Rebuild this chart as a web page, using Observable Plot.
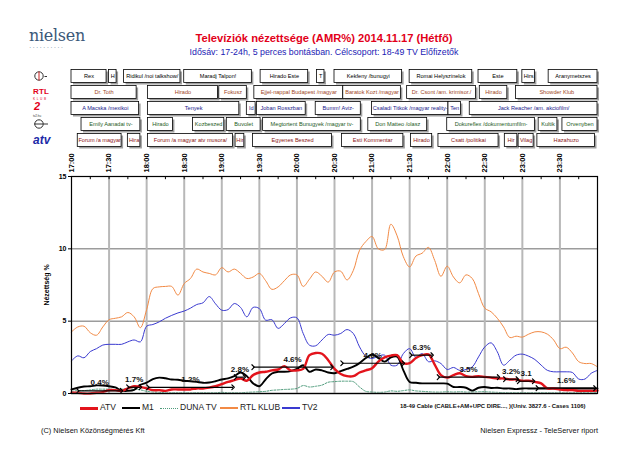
<!DOCTYPE html>
<html><head><meta charset="utf-8">
<script src="https://cdn.jsdelivr.net/npm/d3@7"></script>
<script src="https://cdn.jsdelivr.net/npm/@observablehq/plot@0.6"></script>
<style>
body{margin:0;background:#fff;font-family:"Liberation Sans",Arial,sans-serif;}
#page{position:relative;width:640px;height:450px;overflow:hidden;background:#fff;}
.abs{position:absolute;white-space:nowrap;line-height:1;}
.sw{position:absolute;height:0;}
</style></head><body><div id="page"></div>
<script>
// ---------- data ----------
const timeLabels = ["17:00","17:30","18:00","18:30","19:00","19:30","20:00","20:30","21:00","21:30","22:00","22:30","23:00","23:30"];
const yTicks = [0,5,10,15];
const channelNames = ["ATV","M1","DUNA TV","RTL KLUB","TV2"];
const channelColors = ["#e3141c","#000000","#4f9c7c","#f28a45","#3a3ad0"];

// AMR% every 5 minutes 17:00 ... 24:00
const atvValues = [0.05,0.05,0,0,0.05,0.1,0.23,0.23,0.18,0.35,0.5,0.46,
 0.35,0.23,0.23,0.18,0.28,0.28,0.28,0.28,0.35,0.35,0.41,0.5,
 0.65,0.8,0.92,1.04,0.88,1.27,1.45,1.5,1.6,1.66,1.89,1.6,
 1.6,1.7,2.65,2.8,2.75,2.3,1.7,1.35,1.2,1.2,1.45,1.6,
 1.75,2.2,2.5,2.62,2.65,2.1,2.1,2.45,2.65,2.7,2.0,1.27,
 1.1,1.27,1.4,1.2,1.15,1.2,1.15,1.1,1.04,1.04,0.97,0.97,
 0.88,0.88,0.8,0.7,0.35,0.35,0.28,0.23,0.23,0.18,0.18,0.18,0.2];
const m1Values = [0.28,0.4,0.48,0.5,0.56,0.55,0.5,0.42,0.2,0.18,0.25,0.6,
 0.75,1.0,1.1,1.05,0.97,0.95,0.88,0.85,0.8,0.74,0.76,0.85,
 0.97,1.04,1.2,1.45,1.2,0.7,0.5,0.97,1.38,1.5,1.5,1.55,
 1.7,1.95,1.5,1.66,1.6,1.45,1.4,1.55,1.7,1.85,2.1,2.45,
 2.7,2.45,2.2,2.5,2.55,1.6,0.8,0.74,0.7,0.7,0.7,0.7,
 0.68,0.45,0.45,0.4,0.2,0.4,0.45,0.38,0.4,0.35,0.35,0.3,
 0.35,0.35,0.35,0.35,0.35,0.35,0.35,0.35,0.35,0.35,0.35,0.35,0.35];
const dunaValues = [0.15,0.2,0.2,0.25,0.3,0.3,0.3,0.28,0.3,0.32,0.3,0.25,
 0.15,0.1,0.08,0.05,0.05,0.05,0.05,0.05,0.05,0.05,0.05,0.05,
 0.08,0.05,0.05,0.05,0.08,0.1,0.12,0.15,0.22,0.25,0.28,0.3,
 0.35,0.55,0.45,0.5,0.58,0.78,0.82,0.85,0.85,0.82,0.45,0.15,
 0.1,0.08,0.1,0.18,0.15,0.2,0.25,0.18,0.15,0.12,0.1,0.1,
 0.12,0.1,0.12,0.1,0.1,0.12,0.12,0.1,0.08,0.06,0.05,0.05,
 0.05,0.05,0.05,0.05,0.05,0.05,0.05,0.05,0.05,0.05,0.05,0.05,0.05];
const rtlValues = [4.26,4.6,4.65,4.2,4.03,4.6,5.1,5.2,5.3,5.6,5.3,4.55,
 5.8,7.25,7.37,7.4,7.4,6.8,7.6,7.95,8.6,8.4,8.3,8.2,
 8.7,8.4,8.6,8.3,7.95,8.05,8.3,7.8,7.2,7.37,7.8,8.2,
 8.2,7.4,7.9,8.4,8.1,7.7,8.4,8.45,7.85,8.5,9.9,10.5,
 10.85,10.0,9.95,11.7,10.9,9.45,8.75,9.5,9.7,10.1,9.2,8.1,
 8.8,8.05,7.65,8.2,7.95,6.9,5.9,5.65,5.2,4.6,3.87,3.96,
 3.9,4.1,4.26,4.26,4.1,3.7,3.1,3.2,2.8,2.2,2.07,2.07,1.84];
const tv2Values = [2.26,2.6,2.47,2.9,3.1,3.35,3.4,3.4,3.4,3.57,3.7,3.57,
 4.65,4.77,4.95,5.2,5.4,5.57,5.7,5.9,6.15,6.27,6.7,6.2,
 5.76,5.8,6.22,5.95,5.3,5.95,5.87,5.07,5.1,4.5,4.84,5.23,
 5.23,4.15,3.34,3.3,3.7,4.08,4.03,4.15,4.42,4.15,3.22,2.58,
 2.42,2.58,2.65,1.96,1.96,2.76,3.1,2.5,2.76,2.2,2.26,2.07,
 1.66,1.8,1.6,1.66,1.84,2.53,3.22,3.5,2.88,1.96,2.3,2.65,
 2.72,2.58,2.35,1.96,1.6,1.5,1.5,1.5,1.45,1.0,1.0,1.4,1.6];

// programme grid: [title, start, end]
const m1Programs = [["Rex","17:00","17:28"],["H","17:30","17:36"],["Ridikul /noi talkshow/","17:42","18:27"],["Maradj Talpon!","18:30","19:24"],["Hirado Este","19:31","20:09"],["T","20:16","20:22"],["Kekfeny /bunugyi","20:30","21:24"],["Romai Helyszinelok","21:30","22:20"],["Este","22:25","22:56"],["Hirs","23:00","23:10"],["Aranymetszes","23:21","24:00"]];
const rtlPrograms = [["Dr. Toth","17:00","17:52"],["Hirado","18:01","18:57"],["Fokusz","18:58","19:20"],["Ejjel-nappal Budapest /magyar","19:26","20:37"],["Baratok Kozt /magyar","20:37","21:23"],["Dr. Csont /am. krimisor./","21:28","22:23"],["Hirado","22:26","22:48"],["Showder Klub","22:55","24:00"]];
const tv2Programs = [["A Macska /mexikoi","17:00","17:54"],["Tenyek","18:01","19:14"],["Id","19:20","19:27"],["Joban Rosszban","19:28","20:07"],["Bumm! Aviz-","20:15","20:51"],["Csaladi Titkok /magyar reality-","21:00","22:01"],["Ten","22:01","22:11"],["Jack Reacher /am. akciofilm/","22:18","24:00"]];
const dunaPrograms = [["Emily Aanadai tv-","17:08","17:55"],["Hirado","18:01","18:21"],["Kozbeszed","18:37","19:02"],["Buvolet","19:04","19:31"],["Megtortent Bunugyek /magyar tv-","19:33","20:51"],["Don Matteo /olasz","20:57","21:44"],["Dokureflex /dokumentumfilm-","22:00","23:10"],["Kultik","23:13","23:28"],["Orvenyben","23:32","24:00"]];
const atvPrograms = [["Forum /a magyar","17:05","17:40"],["Hira","17:45","17:55"],["Forum /a magyar atv musora/","18:01","19:09"],["Hir","19:11","19:18"],["Egyenes Beszed","19:25","20:28"],["Esti Kommentar","20:36","21:25"],["Hirado","21:31","21:48"],["Csatt /politikai","21:53","22:41"],["Hir","22:46","22:56"],["Vilag","22:57","23:09"],["Hazahuzo","23:12","23:58"]];
const atvShares = ["0.4%","1.7%","1.2%","2.8%","4.6%","4.6%","6.3%","3.5%","3.2%","3.1","1.6%"];
const atvArrowLevels = [0.18,0.43,0.43,1.13,1.82,2.09,2.65,1.13,0.99,0.85,0.37];

// ---------- helpers ----------
const FONT = '"Liberation Sans", Arial, sans-serif';
const toMin = s => { const [h,m] = s.split(":").map(Number); return (h-17)*60+m; };
const page = document.getElementById("page");
function addText(txt, css){ const d=document.createElement("div"); d.className="abs"; d.textContent=txt; Object.assign(d.style, css); page.appendChild(d); return d; }
function place(el, top){ el.style.position="absolute"; el.style.left="0px"; el.style.top=top+"px"; page.appendChild(el); }

// ---------- header ----------
addText("nielsen",{left:"29px",top:"28px",fontFamily:'"DejaVu Serif","Liberation Serif",serif',fontSize:"16px",color:"#3b5878",letterSpacing:"-0.3px"});
addText("··········",{left:"29px",top:"44px",fontSize:"7px",color:"#7a8fa8",letterSpacing:"1.2px"});
addText("Televíziók nézettsége (AMR%) 2014.11.17 (Hétfő)",{left:"324px",top:"33px",transform:"translateX(-50%)",fontWeight:"bold",fontSize:"11.2px",color:"#e2001a",fontFamily:FONT});
addText("Idősáv: 17-24h, 5 perces bontásban. Célcsoport: 18-49 TV Előfizetők",{left:"324px",top:"48px",transform:"translateX(-50%)",fontSize:"8.8px",color:"#1a1ab4",fontFamily:FONT});

// ---------- programme grid ----------
const rowNames = ["M1","RTL KLUB","TV2","DUNA TV","ATV"];
const rowTextColors = ["#000000","#a0461e","#18188a","#1d5a1d","#8b1414"];
const rowPrograms = [m1Programs, rtlPrograms, tv2Programs, dunaPrograms, atvPrograms];
const progTable = [];
rowPrograms.forEach((list, r) => list.forEach(([label,s,e]) => {
  const a = toMin(s), b = toMin(e);
  progTable.push({row: rowNames[r], label, start: a, end: b, mid: (a+b)/2, color: rowTextColors[r]});
}));

const grid = Plot.plot({
  width: 640, height: 80, marginLeft: 71, marginRight: 43, marginTop: 0, marginBottom: 0,
  x: {domain: [0, 420], axis: null},
  y: {domain: rowNames, axis: null, padding: 0},
  style: {fontFamily: FONT, background: "transparent", overflow: "visible"},
  marks: [
    Plot.barX(progTable, {x1: "start", x2: "end", y: "row", insetTop: 1.5, insetBottom: 1.5, fill: "#a0a0a0", dx: 2, dy: 2}),
    Plot.barX(progTable, {x1: "start", x2: "end", y: "row", insetTop: 1.5, insetBottom: 1.5, fill: "white", stroke: "black", strokeWidth: 0.8}),
    Plot.text(progTable, {x: "mid", y: "row", text: "label", fill: "color", fontSize: 5.6})
  ]
});
place(grid, 68);

// channel logos (decoration)
const logos = document.createElementNS("http://www.w3.org/2000/svg","svg");
logos.setAttribute("width","70"); logos.setAttribute("height","90");
logos.style.position="absolute"; logos.style.left="0px"; logos.style.top="66px";
logos.innerHTML = `
 <g transform="translate(0,10)">
  <circle cx="39" cy="0" r="4.2" fill="none" stroke="#333" stroke-width="1"/>
  <line x1="39" y1="-4.5" x2="39" y2="4.5" stroke="#c22" stroke-width="1"/>
  <line x1="44.5" y1="0.5" x2="47" y2="0.5" stroke="#333" stroke-width="1"/>
 </g>
 <g transform="translate(0,26)">
  <text x="33" y="1.5" font-family="Liberation Sans" font-weight="bold" font-size="8" fill="#e2001a" letter-spacing="0.2">RTL</text>
  <text x="33" y="7.5" font-family="Liberation Sans" font-size="3.2" fill="#e2001a" letter-spacing="1.6">KLUB</text>
 </g>
 <g transform="translate(0,42)">
  <text x="34" y="1.5" font-family="Liberation Sans" font-weight="bold" font-style="italic" font-size="11" fill="#e2001a">2</text>
  <text x="33" y="8.5" font-family="Liberation Sans" font-size="3" fill="#333">tv2.hu</text>
 </g>
 <g transform="translate(0,58)">
  <circle cx="39" cy="0" r="4.2" fill="none" stroke="#333" stroke-width="1"/>
  <line x1="34" y1="0" x2="48" y2="0" stroke="#333" stroke-width="1"/>
 </g>
 <g transform="translate(0,74)">
  <text x="33" y="4" font-family="Liberation Sans" font-weight="bold" font-style="italic" font-size="12" fill="#1d2aa8">atv</text>
 </g>`;
page.appendChild(logos);

// ---------- main chart ----------
const atvTable = atvPrograms.map(([label,s,e], i) => ({label, start: toMin(s), end: toMin(e), mid: (toMin(s)+toMin(e))/2, level: atvArrowLevels[i], share: atvShares[i]}));
const halfHours = timeLabels.map(toMin);
const quarterTicks = d3.range(0, 421, 15);
const seriesValues = [atvValues, m1Values, dunaValues, rtlValues, tv2Values];
const lineStyle = {
  "ATV": {strokeWidth: 2.4}, "M1": {strokeWidth: 1.9},
  "DUNA TV": {strokeWidth: 1, strokeDasharray: "2,1.5"},
  "RTL KLUB": {strokeWidth: 1}, "TV2": {strokeWidth: 1}
};
const drawOrder = ["DUNA TV","RTL KLUB","TV2","M1","ATV"];
const lineMarks = drawOrder.map(name => {
  const k = channelNames.indexOf(name);
  return Plot.line(seriesValues[k], {x: (d,i) => i*5, y: d => d, stroke: channelColors[k], curve: "catmull-rom", ...lineStyle[name]});
});

const chart = Plot.plot({
  width: 640, height: 255, marginLeft: 71, marginRight: 43, marginTop: 28, marginBottom: 10,
  x: {domain: [0, 420]},
  y: {domain: [0, 15]},
  style: {fontFamily: FONT, background: "transparent", overflow: "visible"},
  marks: [
    Plot.ruleY([5,10], {stroke: "#9c9c9c", strokeWidth: 1.5}),
    Plot.ruleX(halfHours.slice(1), {stroke: "#b8b8b8", strokeWidth: 2}),
    Plot.ruleX(quarterTicks, {y1: 15, y2: 14.78, stroke: "black", strokeWidth: 1}),
    ...lineMarks,
    Plot.link(atvTable, {x1: "start", x2: "end", y1: "level", y2: "level", stroke: "black", strokeWidth: 1.2, markerStart: "arrow", markerEnd: "arrow"}),
    Plot.text(atvTable, {x: "mid", y: "level", text: "share", dy: -8, fontWeight: "bold", fontSize: 8, fill: "#111"}),
    Plot.ruleY([0], {stroke: "#8a8a8a", strokeWidth: 1.6}),
    Plot.frame({stroke: "black", strokeWidth: 1.2}),
    Plot.axisX({anchor: "top", ticks: halfHours, tickFormat: d => timeLabels[halfHours.indexOf(d)], tickRotate: -90, tickSize: 0, tickPadding: 4, fontWeight: "bold", fontSize: 7.5, label: null}),
    Plot.axisY({ticks: yTicks, tickSize: 3, tickPadding: 2, fontWeight: "bold", fontSize: 7, label: "Nézettség %", labelAnchor: "center", labelOffset: 27, labelArrow: "none"})
  ]
});
place(chart, 148);

// ---------- legend ----------
const legendX = [80,122,160,220,282];
channelNames.forEach((name, k) => {
  const sw = document.createElement("div"); sw.className = "sw";
  const dashed = name === "DUNA TV";
  Object.assign(sw.style, {left: legendX[k]+"px", top: (dashed ? 407.5 : 406.5)+"px", width: "18px",
    borderTop: dashed ? "1.5px dotted "+channelColors[k] : (name==="ATV"?"3px":"2.2px")+" solid "+channelColors[k]});
  page.appendChild(sw);
  addText(name, {left: (legendX[k]+20)+"px", top: "403px", fontSize: "8.5px", color: "#222", fontFamily: FONT});
});
addText("18-49 Cable (CABLE+AM+UPC DIRE..., )(Univ. 3827.6 - Cases 1106)", {left: "400px", top: "404px", fontSize: "5.9px", fontWeight: "bold", color: "#111", fontFamily: FONT});

// ---------- footer ----------
addText("(C) Nielsen Közönségmérés Kft", {left: "41px", top: "427px", fontSize: "7.4px", color: "#111", fontFamily: FONT});
addText("Nielsen Expressz - TeleServer riport", {right: "42px", top: "427px", fontSize: "7.4px", color: "#111", fontFamily: FONT});
</script></body></html>
